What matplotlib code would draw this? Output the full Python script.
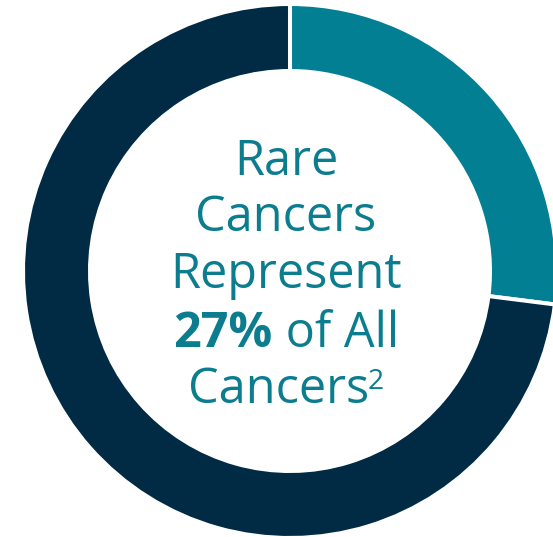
import matplotlib.pyplot as plt

# share of all cancers
labels = ["Rare cancers", "Other cancers"]
shares = [27, 73]
colors = ["#037f93", "#012b45"]

line1 = "Rare"
line2 = "Cancers"
line3 = "Represent"
bold_part = "27%"
rest_part = " of All"
line5 = "Cancers"
sup = "2"

plt.rcParams["font.family"] = ["Open Sans", "DejaVu Sans"]
text_color = "#0b7d8f"

fig = plt.figure(figsize=(5.53, 5.37), dpi=100)
ax = fig.add_axes([0, 0, 1, 1])

# ring: outer radius 265 px, width 63 px (edge line eats 2 px on each side)
ax.pie(shares, colors=colors, startangle=90, counterclock=False,
       center=(290, 266), radius=267,
       wedgeprops=dict(width=67, edgecolor="white", linewidth=2.9))
ax.set_xlim(0, 553)
ax.set_ylim(0, 537)
ax.set_aspect("equal")
ax.axis("off")

fs = 35
cx = 286
ax.text(cx, 537 - 175, line1, ha="center", va="baseline", fontsize=fs, color=text_color)
ax.text(cx, 537 - 231, line2, ha="center", va="baseline", fontsize=fs, color=text_color)
ax.text(cx, 537 - 288, line3, ha="center", va="baseline", fontsize=fs, color=text_color)

# mixed-weight line, centred as a whole
r = fig.canvas.get_renderer()
tb = ax.text(0, 537 - 347, bold_part, ha="left", va="baseline", fontsize=fs,
             fontweight="bold", color=text_color)
tr = ax.text(0, 537 - 347, rest_part, ha="left", va="baseline", fontsize=fs,
             color=text_color)
wb = tb.get_window_extent(r).width
wr = tr.get_window_extent(r).width
x0 = cx - (wb + wr) / 2
tb.set_x(x0)
tr.set_x(x0 + wb)

t5 = ax.text(0, 537 - 403, line5, ha="left", va="baseline", fontsize=fs, color=text_color)
t6 = ax.text(0, 537 - 389, sup, ha="left", va="baseline", fontsize=fs * 0.58,
             color=text_color)
w5 = t5.get_window_extent(r).width
w6 = t6.get_window_extent(r).width
gap = -1
x0 = cx - (w5 + w6 + gap) / 2
t5.set_x(x0)
t6.set_x(x0 + w5 + gap)

fig.savefig("out.png", dpi=100)
